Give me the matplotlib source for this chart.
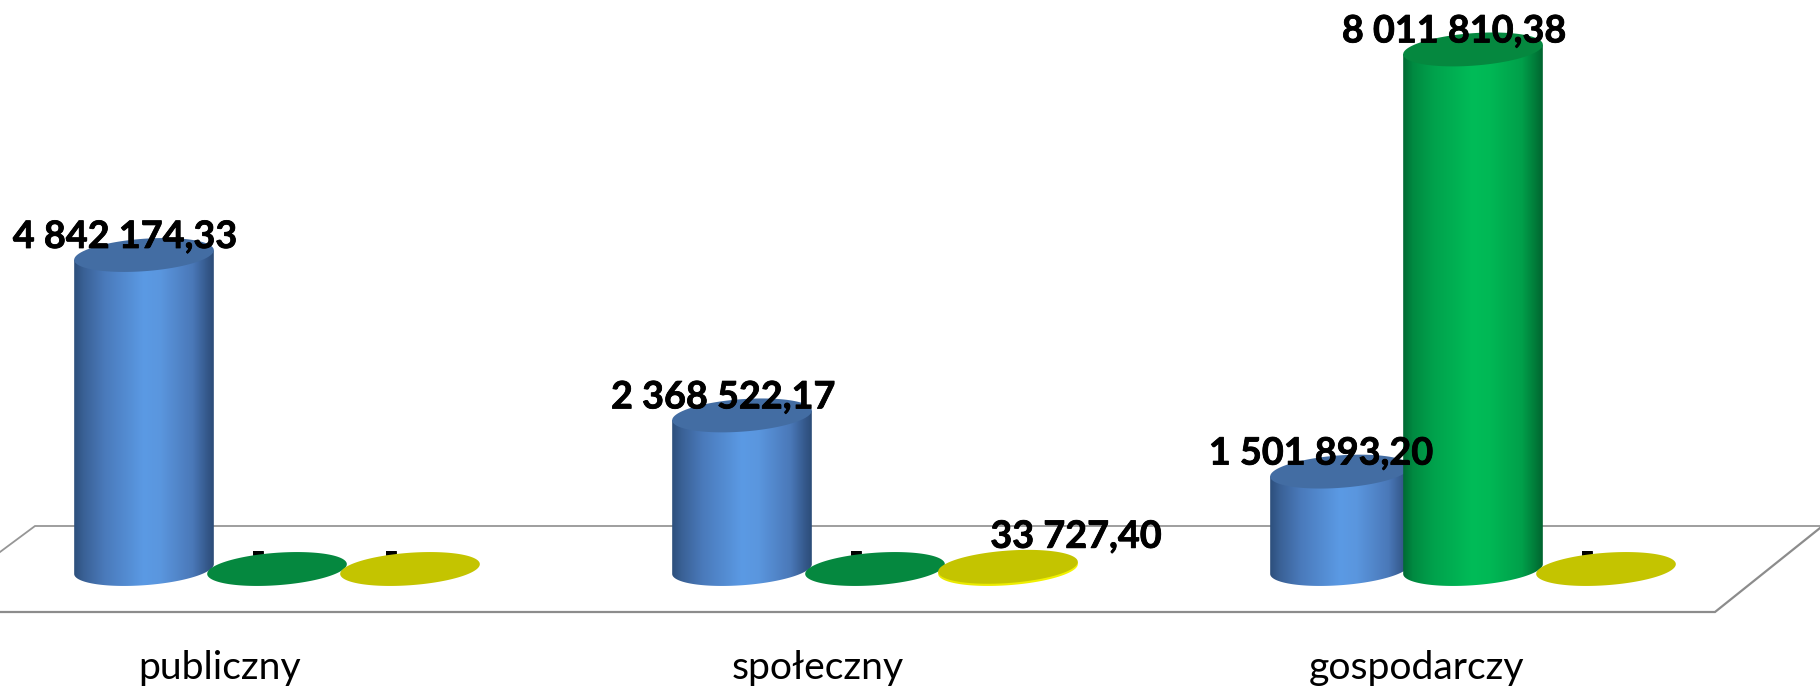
import numpy as np
import matplotlib
matplotlib.use("Agg")
import matplotlib.pyplot as plt
import matplotlib.patheffects as pe
from matplotlib.colors import LinearSegmentedColormap
from matplotlib.patches import Polygon

categories = ["publiczny", "społeczny", "gospodarczy"]
series_blue = [4842174.33, 2368522.17, 1501893.20]
series_green = [0, 0, 8011810.38]
series_yellow = [0, 33727.40, 0]
series = [series_blue, series_green, series_yellow]

W, H = 1820, 687
PX_PER_GROUP = 598.0
PX_PER_VALUE = 6.485e-5   # pixels for one unit of value
BASE_Y = 569              # pixel row of the zero level
ORIGIN_X = 277            # pixel column of the first category centre

# side gradient and cap colour of each series
side_colors = [
    [(0, "#2d4f7c"), (0.07, "#3a6196"), (0.22, "#4a7abb"), (0.5, "#5b9ae4"), (0.62, "#5a96de"),
     (0.85, "#4a78b8"), (0.95, "#35598c"), (1, "#2c4c78")],
    [(0, "#006a34"), (0.07, "#008a41"), (0.22, "#00a24c"), (0.5, "#00bc58"), (0.62, "#00b855"),
     (0.85, "#00a04a"), (0.95, "#007a39"), (1, "#00642f")],
    [(0, "#e8e800"), (1, "#f4f400")],
]
cap_colors = ["#436da3", "#05883f", "#c4c400"]

plt.rcParams["font.family"] = ["Lato", "DejaVu Sans"]

fig = plt.figure(figsize=(W / 100, H / 100), dpi=100, facecolor="white")

# floor of the 3D chart, in picture pixels
bg = fig.add_axes([0, 0, 1, 1])
bg.set_xlim(0, W)
bg.set_ylim(H, 0)
bg.axis("off")
bg.plot([0, 35, W], [552, 526, 526], color="#969696", lw=1.3, solid_joinstyle="miter")
bg.plot([0, 1715, W], [612, 612, 528], color="#8c8c8c", lw=1.6, solid_joinstyle="miter")

ax = fig.add_axes([0, 0, 1, 1])
ax.patch.set_alpha(0)
ax.axis("off")
xlim = (-ORIGIN_X / PX_PER_GROUP, (W - ORIGIN_X) / PX_PER_GROUP)
ylim = (-(H - BASE_Y) / PX_PER_VALUE, BASE_Y / PX_PER_VALUE)

BAR_STEP = 133 / PX_PER_GROUP
A, B, TILT = 70.0, 16.2, np.radians(4.2)


def ellipse_px():
    u = np.linspace(0, 2 * np.pi, 241)[:-1]
    ex = A * np.cos(u) * np.cos(TILT) - B * np.sin(u) * np.sin(TILT)
    ey = A * np.cos(u) * np.sin(TILT) + B * np.sin(u) * np.cos(TILT)
    return ex, ey


def cylinder(xc, value, cmap_stops, cap, z):
    ex, ey = ellipse_px()
    dx = ex / PX_PER_GROUP
    dy = ey / PX_PER_VALUE
    if value > 0:
        # lower arc of the base from right extreme to left extreme, then up the sides
        i_r, i_l = np.argmax(ex), np.argmin(ex)
        order = np.roll(np.arange(len(ex)), -i_l)
        n = (i_r - i_l) % len(ex)
        lower = order[:n + 1]
        px = np.r_[xc + dx[lower], xc + dx[i_r], xc + dx[i_l]]
        py = np.r_[dy[lower], value + dy[i_r], value + dy[i_l]]
        poly = Polygon(np.c_[px, py], closed=True, fc="none", ec="none", transform=ax.transData)
        ax.add_patch(poly)
        cmap = LinearSegmentedColormap.from_list("side", cmap_stops)
        im = ax.imshow(np.linspace(0, 1, 256)[None, :], cmap=cmap, aspect="auto",
                       extent=(xc + dx.min(), xc + dx.max(), dy.min(), value + dy.max()), zorder=z)
        im.set_clip_path(poly)
    ax.fill(xc + dx, value + dy, color=cap, lw=0, zorder=z + 0.1)


def value_label(v):
    if v == 0:
        return "-"
    return f"{v:,.2f}".replace(",", " ").replace(".", ",")


heavy = [pe.withStroke(linewidth=0.6, foreground="black")]

for i in range(len(categories)):
    for j in range(len(series)):
        xc = i + (j - 1) * BAR_STEP
        v = series[j][i]
        cylinder(xc, v, side_colors[j], cap_colors[j], 3 + j + i * 3)
        dx_px, dy_px = -19, 7
        if v == 0:
            dy_px = 5
        if j == 2 and v > 0:
            dx_px, dy_px = 68, 19   # label moved by hand in the original
        t = ax.text(xc + dx_px / PX_PER_GROUP, v + dy_px / PX_PER_VALUE, value_label(v),
                    ha="center", va="baseline", fontsize=27.2, fontweight="bold", color="black",
                    zorder=2 if v == 0 else 30)
        t.set_path_effects(heavy)
    ax.text(i + (220 - ORIGIN_X) / PX_PER_GROUP, -(678.5 - BASE_Y) / PX_PER_VALUE, categories[i],
            ha="center", va="baseline", fontsize=28.2, color="black", zorder=30)

ax.set_xlim(xlim)
ax.set_ylim(ylim)

fig.savefig("out.png", dpi=100)
